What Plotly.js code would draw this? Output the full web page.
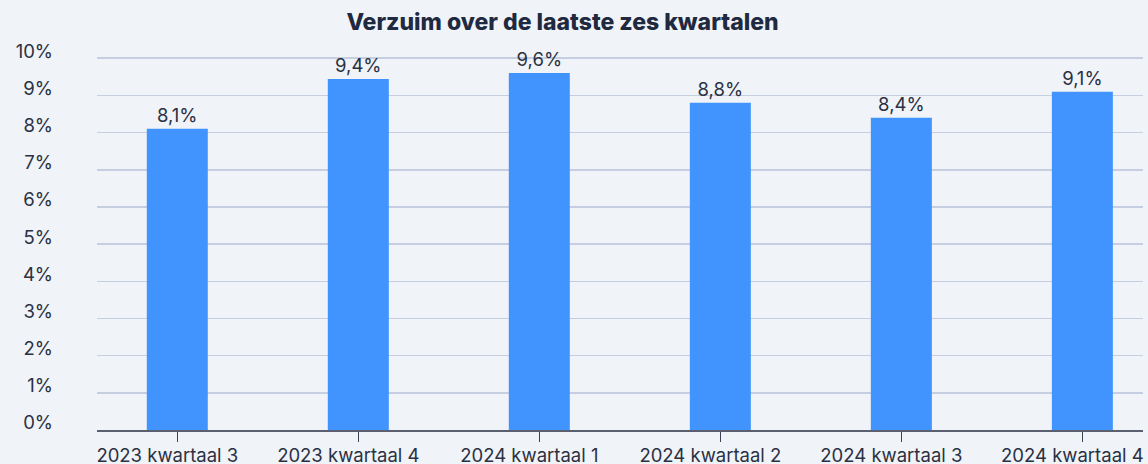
<!DOCTYPE html>
<html>
<head>
<meta charset="utf-8">
<script src="https://cdn.plot.ly/plotly-3.0.1.min.js"></script>
<style>
html,body{margin:0;padding:0;background:#f0f3f8;}
#chart{width:1148px;height:464px;}
</style>
</head>
<body>
<div id="chart"></div>
<script>
const categories = ["2023 kwartaal 3", "2023 kwartaal 4", "2024 kwartaal 1", "2024 kwartaal 2", "2024 kwartaal 3", "2024 kwartaal 4"];
const verzuim = [8.1, 9.44, 9.6, 8.8, 8.4, 9.1];
const yTickValues = [0, 1, 2, 3, 4, 5, 6, 7, 8, 9, 10];
const yTickLabels = ["0%", "1%", "2%", "3%", "4%", "5%", "6%", "7%", "8%", "9%", "10%"];
const chartTitle = "Verzuim over de laatste zes kwartalen";

const textColor = "#2a3142";
const trace = {
  type: "bar",
  x: categories,
  y: verzuim,
  marker: {color: "#4193fe"},
  width: 0.337,
  texttemplate: "%{y:.1f}%",
  textposition: "outside",
  cliponaxis: false,
  textfont: {family: "Inter, sans-serif", size: 18.5, color: textColor},
  hoverinfo: "skip"
};

const layout = {
  width: 1148, height: 464,
  separators: ",.",
  paper_bgcolor: "#f0f3f8",
  plot_bgcolor: "#f0f3f8",
  margin: {l: 97, r: 5, t: 56, b: 34},
  showlegend: false,
  title: {
    text: chartTitle,
    font: {family: "Inter, sans-serif", size: 23, color: "#1f2a40", weight: 800},
    x: 0.49, xanchor: "center", xref: "container",
    y: 0.953, yanchor: "middle", yref: "container"
  },
  xaxis: {
    type: "category",
    range: [-0.4436, 5.335],
    showgrid: false,
    showline: true, linecolor: "#5b6070", linewidth: 2,
    ticks: "outside", ticklen: 10, tickwidth: 1.5, tickcolor: "#3b4150",
    ticklabelstandoff: -2,
    ticklabelshift: -10,
    tickfont: {family: "Inter, sans-serif", size: 18.5, color: textColor},
    fixedrange: true
  },
  yaxis: {
    range: [0, 10.06],
    tickvals: yTickValues,
    ticktext: yTickLabels,
    showgrid: true, gridcolor: "#c6cee2", gridwidth: 1.5,
    zeroline: false,
    showline: false,
    ticks: "",
    ticklabelstandoff: 43,
    ticklabelshift: -7,
    tickfont: {family: "Inter, sans-serif", size: 18.5, color: textColor},
    fixedrange: true
  }
};

Plotly.newPlot("chart", [trace], layout, {displayModeBar: false, staticPlot: true});
</script>
</body>
</html>
